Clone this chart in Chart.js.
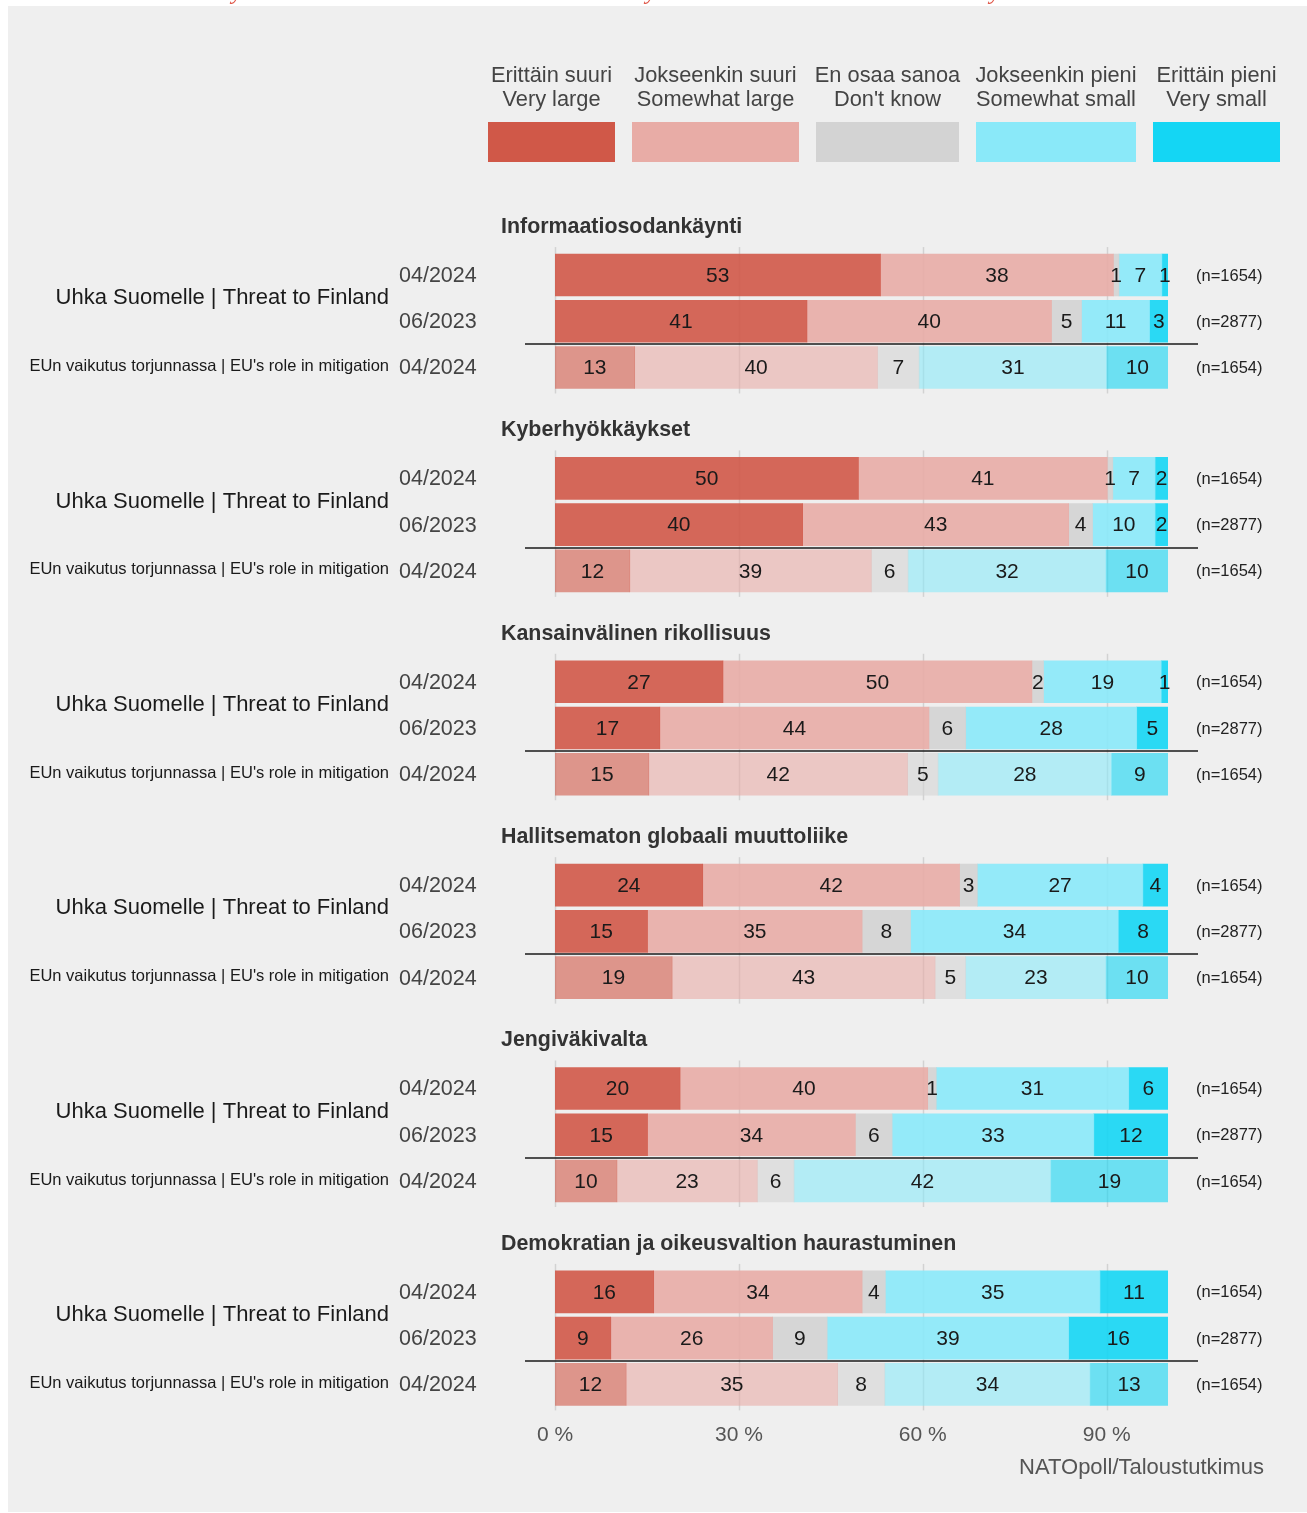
<!DOCTYPE html>
<html>
<head>
<meta charset="utf-8">
<script src="https://cdn.jsdelivr.net/npm/chart.js@4.4.1/dist/chart.umd.min.js"></script>
<style>
  html, body { margin: 0; padding: 0; background: #fff; }
  #wrap { position: relative; width: 1307px; height: 1513px; }
</style>
</head>
<body>
<div id="wrap"><canvas id="myChart" width="1307" height="1513"></canvas></div>
<script>
// --- data ---
const topics = ['Informaatiosodankäynti', 'Kyberhyökkäykset', 'Kansainvälinen rikollisuus',
  'Hallitsematon globaali muuttoliike', 'Jengiväkivalta', 'Demokratian ja oikeusvaltion haurastuminen'];
const threatLabel = 'Uhka Suomelle | Threat to Finland';
const euLabel = "EUn vaikutus torjunnassa | EU's role in mitigation";
const waves = ['04/2024', '06/2023', '04/2024'];
const sampleSizes = ['(n=1654)', '(n=2877)', '(n=1654)'];
const answerFi = ['Erittäin suuri', 'Jokseenkin suuri', 'En osaa sanoa', 'Jokseenkin pieni', 'Erittäin pieni'];
const answerEn = ['Very large', 'Somewhat large', "Don't know", 'Somewhat small', 'Very small'];
const xTicks = [0, 30, 60, 90];

// 18 rows: for each topic -> threat 04/2024, threat 06/2023, EU 04/2024
const veryLarge     = [53.1, 41.1, 13.0, 49.5, 40.4, 12.2, 27.4, 17.1, 15.3, 24.1, 15.1, 19.1, 20.4, 15.1, 10.1, 16.1,  9.1, 11.6];
const somewhatLarge = [38.0, 39.9, 39.6, 40.6, 43.4, 39.4, 50.4, 43.9, 42.2, 41.9, 35.0, 42.9, 40.4, 33.9, 22.9, 34.0, 26.4, 34.5];
const dontKnow      = [ 0.9,  4.9,  6.8,  0.9,  3.9,  6.0,  1.9,  6.0,  5.0,  2.9,  7.9,  5.0,  1.4,  6.0,  6.0,  3.8,  8.9,  7.7];
const somewhatSmall = [ 7.0, 11.1, 30.6,  6.9, 10.2, 32.3, 19.2, 27.9, 28.3, 27.0, 33.9, 22.9, 31.4, 32.9, 41.9, 35.0, 39.4, 33.5];
const verySmall     = [ 1.0,  3.0, 10.0,  2.1,  2.1, 10.1,  1.1,  5.1,  9.2,  4.1,  8.1, 10.1,  6.4, 12.1, 19.1, 11.1, 16.2, 12.7];

const series = [veryLarge, somewhatLarge, dontKnow, somewhatSmall, verySmall];
const colors = [[208, 88, 72], [232, 172, 166], [211, 211, 211], [138, 233, 249], [20, 214, 244]];

const FONT = '"Liberation Sans", Arial, sans-serif';
const panelStep = 4.4;
const yMin = -0.65, yMax = 24.65;
const rowPos = i => Math.floor(i / 3) * panelStep + (i % 3);
const rgba = (c, a) => `rgba(${c[0]},${c[1]},${c[2]},${a})`;

const datasets = series.map((vals, k) => ({
  label: answerEn[k],
  data: vals.map((v, i) => ({ x: v, y: rowPos(i) })),
  backgroundColor: vals.map((v, i) => i % 3 === 2 ? rgba(colors[k], 0.6) : rgba(colors[k], 0.9)),
  borderWidth: 0,
  barThickness: 42
}));

function text(c, s, x, y, font, color, align) {
  c.font = font;
  c.fillStyle = color;
  c.textAlign = align || 'left';
  c.textBaseline = 'middle';
  c.fillText(s, x, y);
}

const decor = {
  id: 'decor',
  beforeDraw(chart) {
    const c = chart.ctx;
    c.save();
    c.fillStyle = '#ffffff';
    c.fillRect(0, 0, chart.width, chart.height);
    c.fillStyle = '#efefef';
    c.fillRect(8, 6, chart.width - 8, chart.height - 7);
    // cut-off red heading above the figure
    c.font = 'italic 24px "Liberation Serif", serif';
    c.fillStyle = '#e0594b';
    c.textAlign = 'center';
    c.textBaseline = 'alphabetic';
    [237, 651, 995].forEach(x => c.fillText('y', x, -1));
    c.restore();
  },
  beforeDatasetsDraw(chart) {
    const c = chart.ctx, xs = chart.scales.x, ys = chart.scales.y;
    c.save();
    c.strokeStyle = '#d2d2d2';
    c.lineWidth = 1.5;
    topics.forEach((t, p) => {
      const y0 = ys.getPixelForValue(p * panelStep) - 28;
      const y1 = ys.getPixelForValue(p * panelStep + 2) + 26;
      xTicks.forEach(v => {
        const x = Math.round(xs.getPixelForValue(v)) + 0.5;
        c.beginPath(); c.moveTo(x, y0); c.lineTo(x, y1); c.stroke();
      });
    });
    c.restore();
  },
  afterDatasetsDraw(chart) {
    const c = chart.ctx;
    c.save();
    chart.data.datasets.forEach((ds, k) => {
      chart.getDatasetMeta(k).data.forEach((bar, i) => {
        const cx = (bar.x + bar.base) / 2;
        text(c, String(Math.round(series[k][i])), cx, bar.y + 1, '21px ' + FONT, '#1a1a1a', 'center');
      });
    });
    c.restore();
  },
  afterDraw(chart) {
    const c = chart.ctx, ys = chart.scales.y;
    c.save();
    // legend
    const boxes = [[488, 615], [632, 799], [816, 959], [976, 1136], [1153, 1280]];
    boxes.forEach((b, k) => {
      const cx = (b[0] + b[1]) / 2;
      text(c, answerFi[k], cx, 76, '21.8px ' + FONT, '#444444', 'center');
      text(c, answerEn[k], cx, 100, '21.8px ' + FONT, '#444444', 'center');
      c.fillStyle = rgba(colors[k], 1);
      c.fillRect(b[0], 122, b[1] - b[0], 40);
    });
    // panels
    topics.forEach((t, p) => {
      const rows = [0, 1, 2].map(r => ys.getPixelForValue(p * panelStep + r));
      text(c, t, 501, rows[0] - 48, 'bold 21.4px ' + FONT, '#333333');
      text(c, threatLabel, 389, (rows[0] + rows[1]) / 2, '22px ' + FONT, '#1a1a1a', 'right');
      text(c, euLabel, 389, rows[2] - 1, '16.5px ' + FONT, '#1a1a1a', 'right');
      rows.forEach((y, r) => {
        text(c, waves[r], 399, y + 1, '21.5px ' + FONT, '#444444');
        text(c, sampleSizes[r], 1196, y + 1, '16.5px ' + FONT, '#222222');
      });
      const sy = Math.round((rows[1] + rows[2]) / 2);
      c.strokeStyle = '#1a1a1a';
      c.lineWidth = 1.6;
      c.beginPath(); c.moveTo(525, sy); c.lineTo(1198, sy); c.stroke();
    });
    text(c, 'NATOpoll/Taloustutkimus', 1264, 1468, '22px ' + FONT, '#555555', 'right');
    c.restore();
  }
};

const myChart = new Chart(document.getElementById('myChart').getContext('2d'), {
  type: 'bar',
  data: { datasets },
  options: {
    indexAxis: 'y',
    responsive: false,
    animation: false,
    layout: { padding: { left: 555, right: 139, top: 245, bottom: 58.6 } },
    scales: {
      x: {
        type: 'linear',
        min: 0,
        max: 100,
        stacked: true,
        grid: { display: false, drawTicks: false },
        border: { display: false },
        afterBuildTicks: s => { s.ticks = xTicks.map(v => ({ value: v })); },
        afterFit: s => { s.height = 40; },
        ticks: {
          padding: 8,
          color: '#555555',
          font: { family: FONT, size: 21 },
          callback: v => v + ' %'
        }
      },
      y: {
        type: 'linear',
        stacked: true,
        display: false,
        reverse: true,
        offset: false,
        bounds: 'data',
        min: yMin,
        max: yMax,
        afterDataLimits: s => { s.min = yMin; s.max = yMax; }
      }
    },
    plugins: { legend: { display: false }, tooltip: { enabled: false } }
  },
  plugins: [decor]
});
</script>
</body>
</html>
